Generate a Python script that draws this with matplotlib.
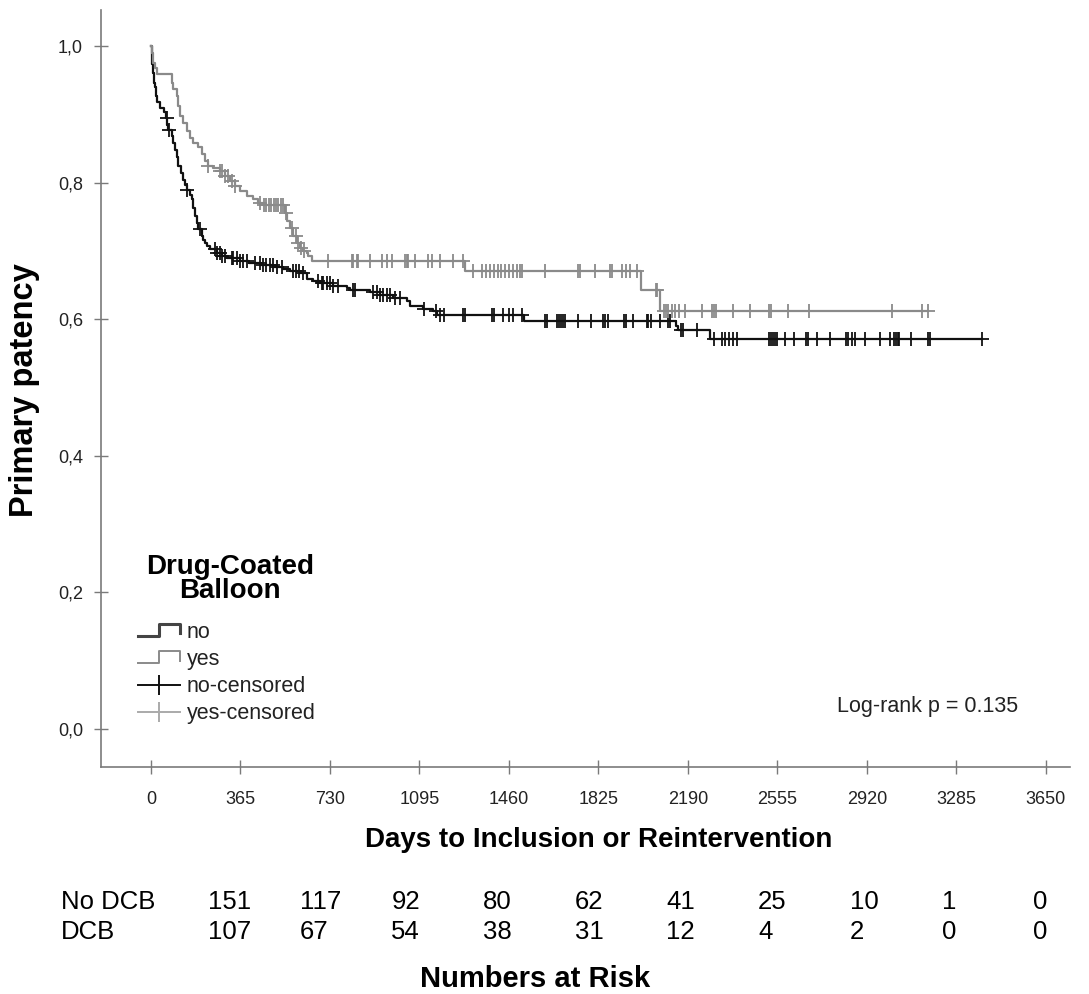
import numpy as np
import matplotlib

matplotlib.use("Agg")
import matplotlib.pyplot as plt
from matplotlib.legend_handler import HandlerBase
from matplotlib.lines import Line2D

plt.rcParams["font.family"] = ["Liberation Sans", "DejaVu Sans"]

# Kaplan-Meier steps (days, survival after step)
no_t = [0, 3, 6, 9, 13, 16, 20, 23, 37, 53, 61, 66, 71, 84, 91, 98, 105, 111, 122, 132,
        140, 146, 160, 166, 172, 179, 186, 193, 207, 214, 220, 230, 241, 268, 290, 309, 363, 400, 450, 499,
        540, 567, 608, 635, 660, 689, 743, 798, 812, 893, 934, 988, 1043, 1056, 1111, 1152, 1165, 1522, 2140, 2150,
        2280]
no_s = [1.0, .987, .974, .961, .947, .940, .927, .918, .910, .904, .895, .885, .878, .869, .859, .849, .838, .825, .815, .805,
        .797, .790, .783, .776, .763, .751, .741, .732, .722, .717, .712, .707, .703, .698, .693, .690, .686, .683, .680, .677,
        .674, .671, .668, .660, .657, .654, .649, .646, .643, .640, .636, .632, .627, .620, .616, .612, .606, .598, .590, .584,
        .571]
no_cens = [65, 75, 146, 200, 261, 270, 280, 290, 302, 329, 336, 349, 363, 376, 390, 424, 444, 457, 471, 485,
           498, 512, 533, 579, 590, 605, 620, 682, 696, 703, 717, 730, 744, 764, 825, 832, 907, 920, 934, 947,
           961, 975, 995, 1015, 1115, 1164, 1179, 1195, 1273, 1281, 1390, 1398, 1437, 1461, 1476, 1515, 1608, 1616,
           1655, 1663, 1671, 1679, 1687, 1741, 1796, 1842, 1850, 1866, 1929, 1936, 1967, 2022, 2029, 2038, 2077,
           2108, 2116, 2163, 2170, 2225, 2295, 2327, 2342, 2358, 2374, 2389, 2522, 2529, 2537, 2545, 2553, 2584,
           2623, 2670, 2678, 2717, 2771, 2834, 2842, 2858, 2873, 2912, 2974, 3013, 3029, 3037, 3045, 3052, 3099,
           3169, 3177, 3388]

yes_t = [0, 3, 7, 15, 23, 84, 91, 105, 111, 118, 132, 146, 159, 173, 193, 207, 220, 234, 254, 281,
         302, 322, 343, 363, 390, 417, 438, 458, 545, 553, 567, 581, 594, 608, 621, 635, 642, 655, 1280, 2000,
         2075]
yes_s = [1.0, .99, .976, .968, .959, .947, .937, .927, .913, .898, .888, .876, .866, .859, .852, .842, .832, .825, .822, .817,
         .810, .803, .795, .788, .781, .776, .771, .768, .756, .744, .734, .722, .712, .705, .700, .698, .693, .685, .671, .643,
         .612]
yes_cens = [234, 281, 290, 302, 315, 330, 343, 445, 460, 470, 480, 490, 500, 510, 520, 530, 540, 550, 575, 590,
            600, 612, 625, 723, 819, 826, 840, 846, 894, 941, 962, 982, 1036, 1043, 1050, 1077, 1131, 1145, 1178,
            1233, 1274, 1312, 1351, 1367, 1382, 1398, 1414, 1429, 1445, 1461, 1476, 1492, 1507, 1515, 1609, 1742,
            1749, 1812, 1874, 1882, 1921, 1936, 1952, 1983, 2058, 2064, 2093, 2100, 2108, 2124, 2139, 2155, 2178,
            2248, 2287, 2295, 2303, 2374, 2444, 2522, 2530, 2600, 2685, 3021, 3146, 3169]

x_ticks = list(range(0, 3651, 365))
y_ticks = [0.0, 0.2, 0.4, 0.6, 0.8, 1.0]
risk_labels = ["No DCB", "DCB"]
risk_no = [151, 117, 92, 80, 62, 41, 25, 10, 1, 0]
risk_yes = [107, 67, 54, 38, 31, 12, 4, 2, 0, 0]

BLACK = "#111111"
GREY = "#8a8a8a"
AXCOL = "#7a7a7a"


def km_line(ax, t, s, cens, color, lw):
    t_end = max(max(cens), t[-1])
    ax.step(list(t) + [t_end], list(s) + [s[-1]], where="post", color=color, lw=lw)
    idx = np.searchsorted(t, cens, side="right") - 1
    ax.plot(cens, np.array(s)[idx], ls="none", marker="+", ms=9.5, mew=1.3, color=color)


class StepHandler(HandlerBase):
    def create_artists(self, legend, orig, xd, yd, w, h, fontsize, trans):
        xs = [xd, xd + w * 0.5, xd + w * 0.5, xd + w, xd + w]
        ys = [yd + h * 0.15, yd + h * 0.15, yd + h * 0.95, yd + h * 0.95, yd + h * 0.3]
        ln = Line2D(xs, ys, color=orig.get_color(), lw=orig.get_linewidth(), transform=trans)
        return [ln]


fig = plt.figure(figsize=(10.89, 9.94), dpi=100)
ax = fig.add_axes([0.0927, 0.2284, 0.8898, 0.7616])

km_line(ax, no_t, no_s, no_cens, BLACK, 1.6)
km_line(ax, yes_t, yes_s, yes_cens, GREY, 1.6)

ax.set_xlim(-204, 3748)
ax.set_ylim(-0.0557, 1.0535)
ax.set_xticks(x_ticks)
ax.set_yticks(y_ticks)
ax.set_yticklabels([f"{v:.1f}".replace(".", ",") for v in y_ticks])
ax.tick_params(direction="inout", length=10, width=1, color=AXCOL, labelsize=13, labelcolor="#222222")
ax.tick_params(axis="x", pad=12)
ax.tick_params(axis="y", pad=8)
for side in ["top", "right"]:
    ax.spines[side].set_visible(False)
for side in ["left", "bottom"]:
    ax.spines[side].set_color(AXCOL)
    ax.spines[side].set_linewidth(1.2)

ax.set_ylabel("Primary patency", fontsize=23.5, fontweight="bold", va="center")
ax.yaxis.set_label_coords(-0.079, 0.498)
ax.set_xlabel("Days to Inclusion or Reintervention", fontsize=20, fontweight="bold", va="center")
ax.xaxis.set_label_coords(0.514, -0.0964)

ax.text(0.947, 0.0793, "Log-rank p = 0.135", transform=ax.transAxes, fontsize=15.5,
        ha="right", va="center", color="#222222")

# legend: title as its own centred text, entries below
fig.text(230 / 1089, 1 - 579 / 994, "Drug-Coated\nBalloon", fontsize=20, fontweight="bold",
         ha="center", va="center", multialignment="center", linespacing=0.95)
handles = [
    Line2D([], [], color="#444444", lw=2.2),
    Line2D([], [], color=GREY, lw=1.4),
    Line2D([], [], color=BLACK, lw=1.4, marker="|", ms=14, mew=1.4),
    Line2D([], [], color="#aaaaaa", lw=1.4, marker="|", ms=14, mew=1.4),
]
labels = ["no", "yes", "no-censored", "yes-censored"]
leg = ax.legend(handles, labels, loc="upper left", bbox_to_anchor=(138 / 1089, 1 - 622 / 994),
                bbox_transform=fig.transFigure, frameon=False, fontsize=15.5,
                handlelength=1.95, handletextpad=0.3, labelspacing=0.28, borderaxespad=0,
                borderpad=0, handler_map={handles[0]: StepHandler(), handles[1]: StepHandler()})
for txt in leg.get_texts():
    txt.set_color("#222222")

# numbers at risk table
col_x0 = 208 / 1089
col_dx = 91.7 / 1089
row_y = [1 - 902 / 994, 1 - 932 / 994]
for r, (lab, vals) in enumerate(zip(risk_labels, [risk_no, risk_yes])):
    fig.text(61 / 1089, row_y[r], lab, fontsize=18.5, ha="left", va="center")
    for i, v in enumerate(vals):
        fig.text(col_x0 + i * col_dx, row_y[r], str(v), fontsize=18.5, ha="left", va="center")
fig.text(535 / 1089, 1 - 979 / 994, "Numbers at Risk", fontsize=21, fontweight="bold",
         ha="center", va="center")

fig.savefig("out.png", dpi=100)
